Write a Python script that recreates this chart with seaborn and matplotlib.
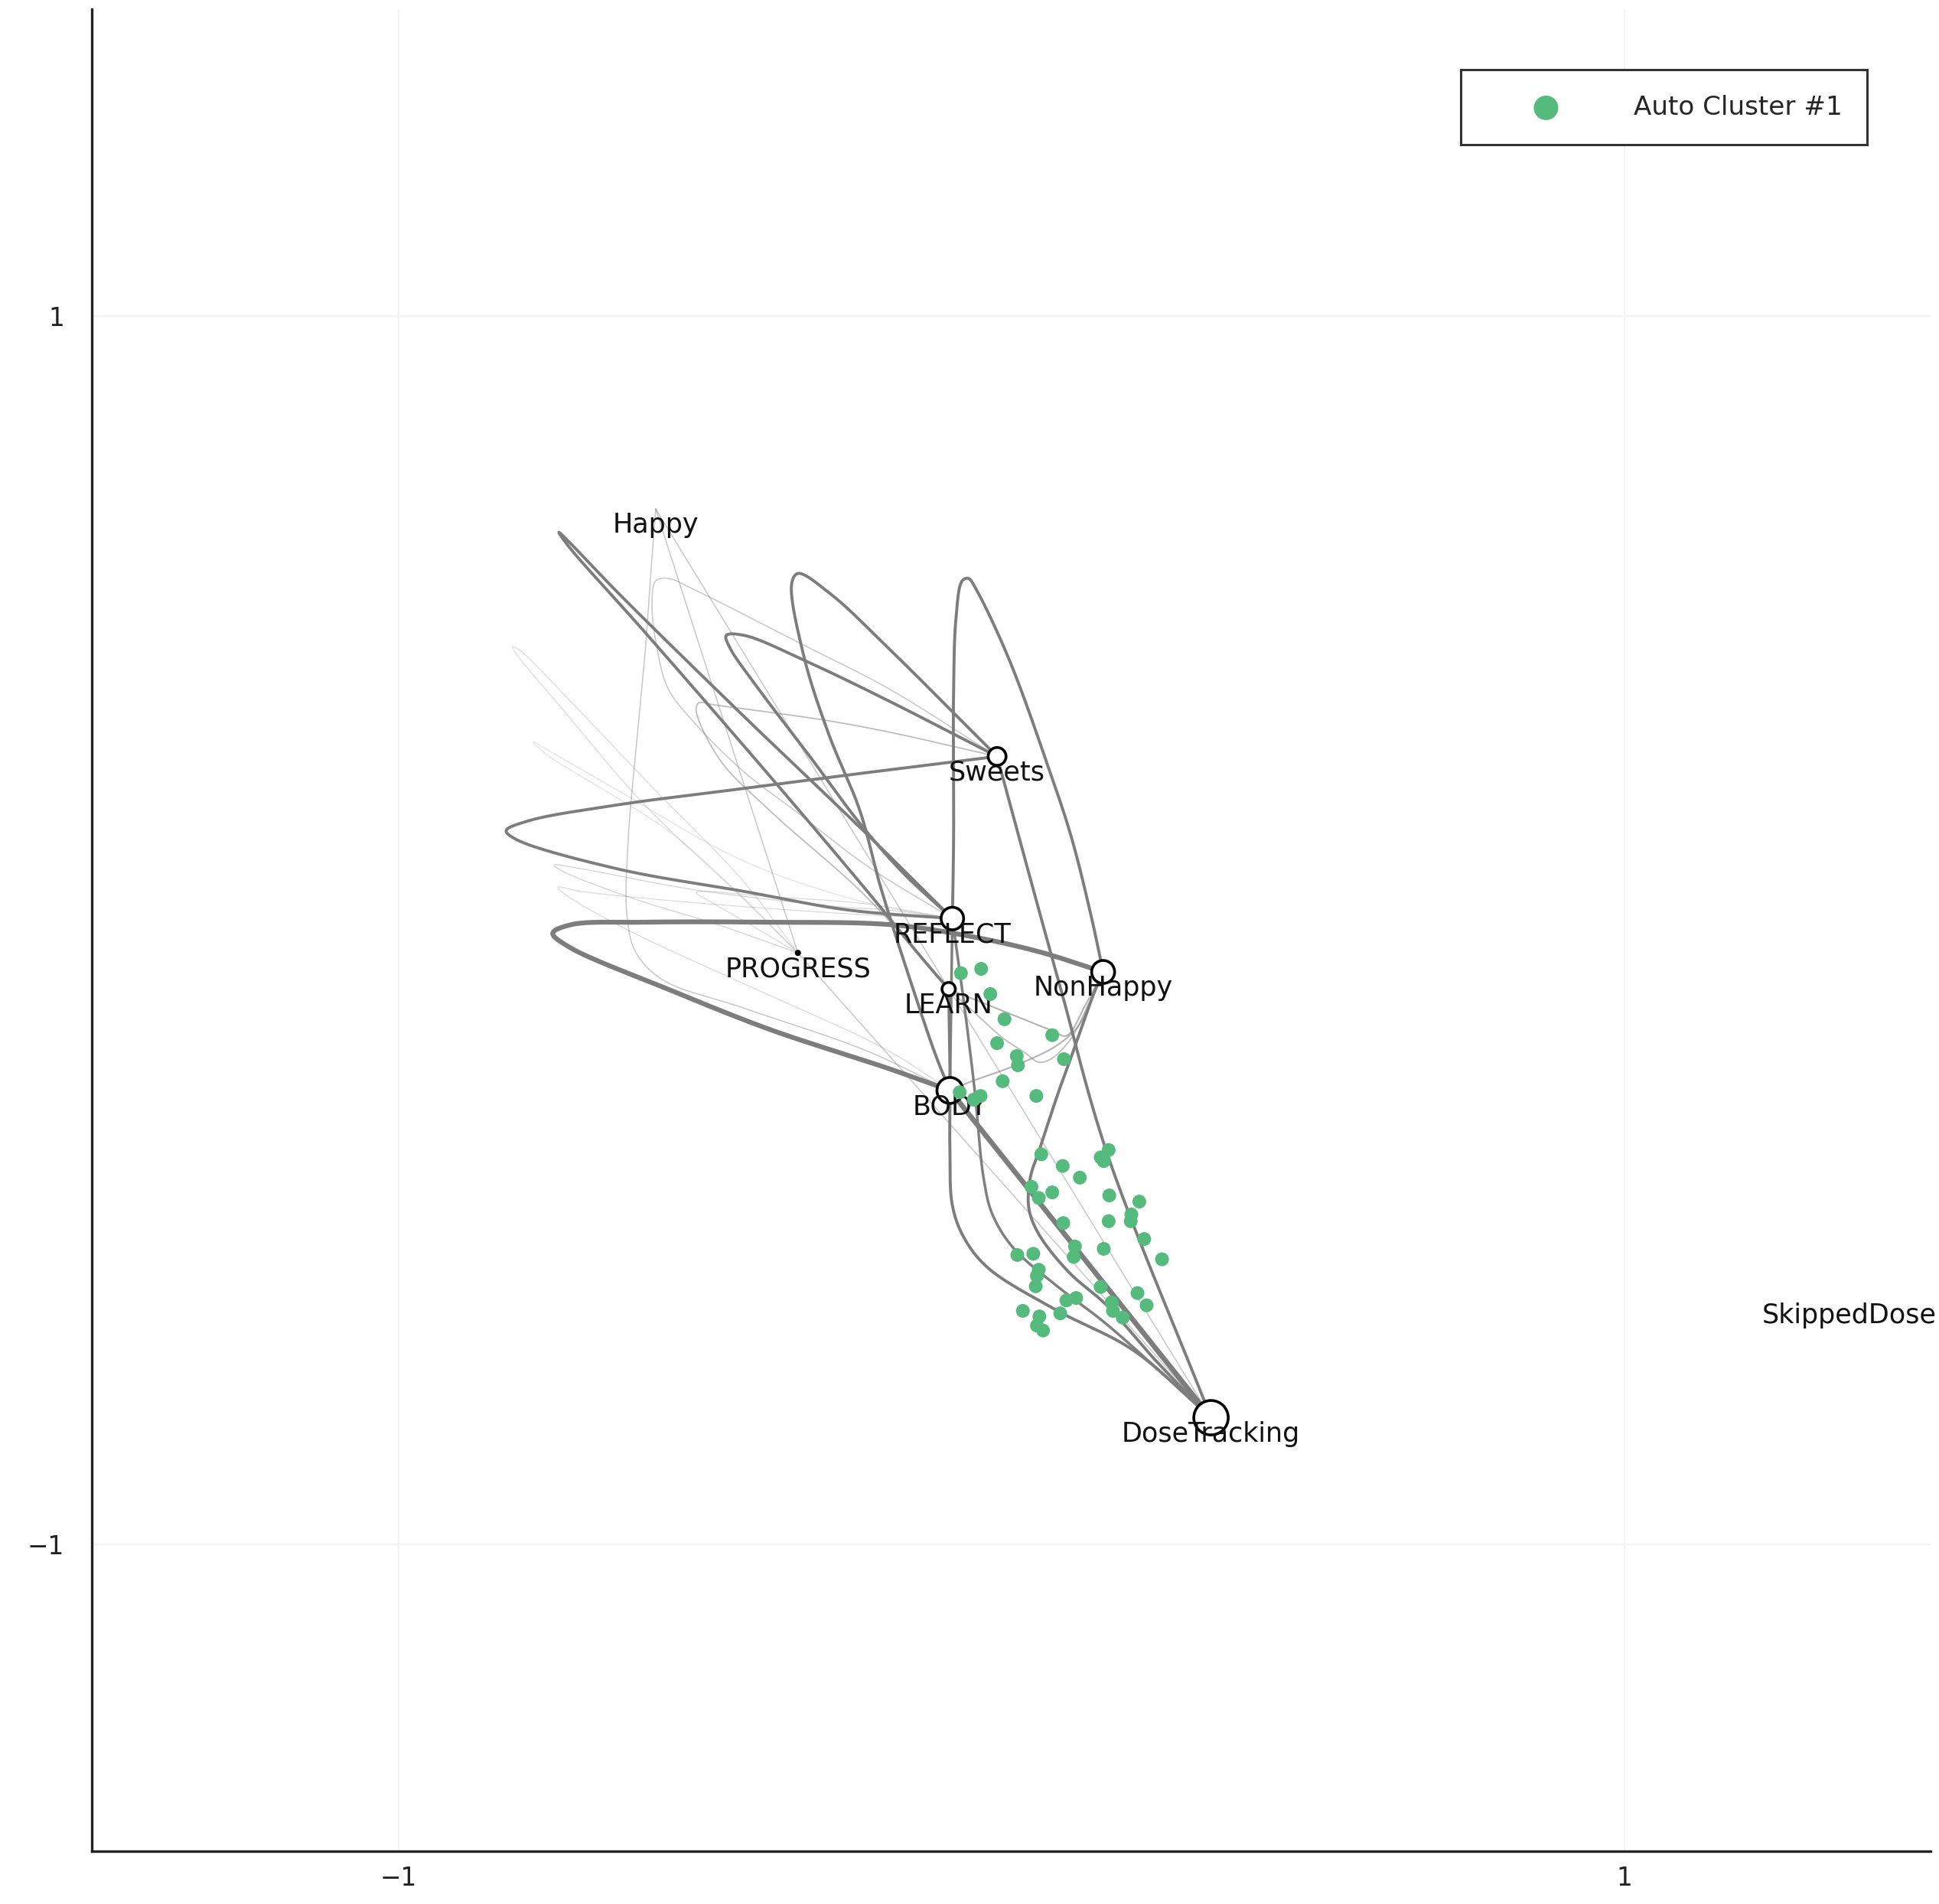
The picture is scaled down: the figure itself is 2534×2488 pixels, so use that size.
import numpy as np
import pandas as pd
import matplotlib
matplotlib.use("Agg")
import matplotlib.pyplot as plt
import seaborn as sns

# ---------------- data ----------------
node_names = ["Happy", "Sweets", "REFLECT", "PROGRESS", "NonHappy",
              "LEARN", "BODY", "DoseTracking", "SkippedDose"]
node_x = [-0.580, -0.023, -0.096, -0.348, 0.150, -0.102, -0.100, 0.326, 1.367]
node_y = [0.686, 0.283, 0.019, -0.037, -0.068, -0.096, -0.261, -0.794, -0.601]
node_weight = [0.0, 8.4, 10.6, 1.6, 10.8, 6.3, 12.2, 16.2, 0.0]

# transitions between states: source, target, weight and via points of each curve
edge_src = ["NonHappy", "Sweets", "Sweets", "REFLECT", "Sweets", "REFLECT",
            "Sweets", "NonHappy", "BODY", "LEARN", "REFLECT", "REFLECT",
            "LEARN", "BODY", "LEARN", "PROGRESS", "Happy", "Happy", "Happy",
            "Sweets", "Sweets", "PROGRESS", "REFLECT", "REFLECT", "REFLECT",
            "REFLECT"]
edge_dst = ["BODY", "REFLECT", "BODY", "NonHappy", "REFLECT", "LEARN",
            "DoseTracking", "DoseTracking", "DoseTracking", "DoseTracking",
            "DoseTracking", "BODY", "NonHappy", "NonHappy", "NonHappy",
            "DoseTracking", "DoseTracking", "PROGRESS", "BODY", "REFLECT",
            "LEARN", "PROGRESS", "PROGRESS", "BODY", "PROGRESS", "PROGRESS"]
edge_weight = [4.2, 2.5, 2.5, 2.5, 2.5, 2.5, 2.5, 2.5, 4.5, 2.5, 2.2, 2.2,
               1.2, 1.2, 1.0, 0.8, 0.8, 0.8, 0.8, 0.8, 1.0, 0.5, 0.6, 0.5,
               0.5, 0.4]
edge_via = [
    [(0.045, -0.035), (-0.072, -0.009), (-0.197, 0.009), (-0.399, 0.013),
     (-0.600, 0.013), (-0.718, 0.009), (-0.748, -0.005), (-0.722, -0.027),
     (-0.560, -0.096), (-0.393, -0.162), (-0.201, -0.225)],
    [(-0.201, 0.261), (-0.435, 0.231), (-0.643, 0.204), (-0.788, 0.178),
     (-0.824, 0.162), (-0.808, 0.148), (-0.643, 0.100), (-0.435, 0.063),
     (-0.267, 0.033)],
    [(-0.201, 0.460), (-0.294, 0.547), (-0.348, 0.581), (-0.358, 0.565),
     (-0.338, 0.445), (-0.298, 0.320), (-0.247, 0.195), (-0.213, 0.070),
     (-0.160, -0.096), (-0.122, -0.207)],
    [(-0.094, 0.146), (-0.094, 0.388), (-0.090, 0.509), (-0.080, 0.569),
     (-0.070, 0.573), (-0.056, 0.553), (-0.003, 0.440), (0.058, 0.273),
     (0.098, 0.152), (0.130, 0.025)],
    [(-0.201, 0.374), (-0.330, 0.436), (-0.435, 0.480), (-0.465, 0.480),
     (-0.459, 0.460), (-0.413, 0.394), (-0.330, 0.285), (-0.247, 0.174),
     (-0.177, 0.094)],
    [(-0.237, 0.158), (-0.439, 0.351), (-0.641, 0.549), (-0.718, 0.629),
     (-0.738, 0.648), (-0.722, 0.625), (-0.600, 0.488), (-0.399, 0.257),
     (-0.237, 0.066), (-0.146, -0.045)],
    [(0.029, 0.092), (0.082, -0.100), (0.156, -0.362)],
    [(0.136, -0.100), (0.106, -0.184), (0.076, -0.267), (0.049, -0.349),
     (0.031, -0.404), (0.029, -0.454), (0.045, -0.495), (0.094, -0.557),
     (0.156, -0.611), (0.235, -0.700)],
    [],
    [(-0.100, -0.217), (-0.100, -0.358), (-0.096, -0.448), (-0.078, -0.499),
     (-0.039, -0.549), (0.074, -0.619), (0.199, -0.684)],
    [(-0.080, -0.096), (-0.060, -0.257), (-0.045, -0.404), (-0.031, -0.462),
     (0.003, -0.517), (0.074, -0.579), (0.156, -0.642)],
    [],
    [(-0.047, -0.118), (0.068, -0.164), (0.090, -0.172), (0.122, -0.120)],
    [(-0.072, -0.249), (0.015, -0.217), (0.074, -0.188), (0.108, -0.158),
     (0.132, -0.112)],
    [(-0.056, -0.138), (-0.013, -0.176), (0.023, -0.200), (0.045, -0.215),
     (0.066, -0.209), (0.098, -0.176), (0.126, -0.120)],
    [],
    [],
    [],
    [(-0.586, 0.609), (-0.596, 0.468), (-0.611, 0.307), (-0.625, 0.146),
     (-0.627, 0.025), (-0.613, -0.035), (-0.570, -0.080), (-0.439, -0.126),
     (-0.237, -0.196)],
    [(-0.201, 0.394), (-0.330, 0.460), (-0.518, 0.555), (-0.560, 0.573),
     (-0.580, 0.569), (-0.586, 0.529), (-0.578, 0.460), (-0.560, 0.394),
     (-0.518, 0.339), (-0.435, 0.257), (-0.352, 0.194), (-0.237, 0.106)],
    [(-0.201, 0.323), (-0.310, 0.343), (-0.479, 0.366), (-0.510, 0.370),
     (-0.514, 0.358), (-0.475, 0.277), (-0.393, 0.194), (-0.237, 0.055)],
    [(-0.439, 0.082), (-0.580, 0.227), (-0.722, 0.376), (-0.802, 0.456),
     (-0.814, 0.462), (-0.806, 0.448), (-0.732, 0.360), (-0.600, 0.206),
     (-0.439, 0.053)],
    [(-0.201, 0.033), (-0.267, 0.037), (-0.518, 0.066), (-0.701, 0.100),
     (-0.746, 0.106), (-0.732, 0.096), (-0.621, 0.053), (-0.479, 0.009)],
    [(-0.237, 0.025), (-0.520, 0.045), (-0.701, 0.063), (-0.740, 0.070),
     (-0.726, 0.057), (-0.623, -0.001), (-0.439, -0.086), (-0.201, -0.196)],
    [(-0.237, 0.043), (-0.399, 0.055), (-0.500, 0.063), (-0.514, 0.061),
     (-0.495, 0.049), (-0.419, 0.005)],
    [(-0.237, 0.045), (-0.435, 0.112), (-0.641, 0.227), (-0.762, 0.297),
     (-0.780, 0.307), (-0.762, 0.289), (-0.560, 0.162), (-0.439, 0.055)],
]

# sampled states of the automatically detected cluster
cluster_x = [-0.082, -0.049, -0.034, -0.011, 0.067, -0.023, 0.009, 0.011,
             0.086, -0.014, -0.084, -0.061, -0.050, 0.041,
             0.049, 0.084, 0.112, 0.146, 0.159, 0.151, 0.033, 0.045, 0.067,
             0.160, 0.209, 0.196, 0.195, 0.159, 0.085, 0.217, 0.104, 0.102,
             0.151, 0.246, 0.010, 0.036, 0.045, 0.042, 0.040, 0.146, 0.090,
             0.106, 0.206, 0.221, 0.164, 0.166, 0.182, 0.019, 0.046, 0.042,
             0.052, 0.080]
cluster_y = [-0.070, -0.063, -0.104, -0.145, -0.171, -0.184, -0.205, -0.220,
             -0.210, -0.246, -0.264, -0.276, -0.270, -0.270,
             -0.365, -0.384, -0.403, -0.370, -0.358, -0.376, -0.418, -0.436,
             -0.427, -0.432, -0.442, -0.463, -0.474, -0.474, -0.477, -0.503,
             -0.515, -0.532, -0.519, -0.536, -0.529, -0.527, -0.553, -0.563,
             -0.580, -0.581, -0.603, -0.599, -0.591, -0.611, -0.606, -0.620,
             -0.631, -0.620, -0.629, -0.644, -0.652, -0.624]
cluster_label = "Auto Cluster #1"
tick_values = [-1, 1]


# ---------------- helpers ----------------
def catmull_rom(points, n=30):
    """Centripetal Catmull-Rom spline through the given points."""
    pts = np.asarray(points, dtype=float)
    if len(pts) == 2:
        return pts
    p = np.vstack([2 * pts[0] - pts[1], pts, 2 * pts[-1] - pts[-2]])
    out = []
    for i in range(1, len(p) - 2):
        p0, p1, p2, p3 = p[i - 1], p[i], p[i + 1], p[i + 2]

        def step(a, b):
            return max(np.linalg.norm(b - a) ** 0.5, 1e-6)

        t0 = 0.0
        t1 = t0 + step(p0, p1)
        t2 = t1 + step(p1, p2)
        t3 = t2 + step(p2, p3)
        t = np.linspace(t1, t2, n)[:, None]
        a1 = (t1 - t) / (t1 - t0) * p0 + (t - t0) / (t1 - t0) * p1
        a2 = (t2 - t) / (t2 - t1) * p1 + (t - t1) / (t2 - t1) * p2
        a3 = (t3 - t) / (t3 - t2) * p2 + (t - t2) / (t3 - t2) * p3
        b1 = (t2 - t) / (t2 - t0) * a1 + (t - t0) / (t2 - t0) * a2
        b2 = (t3 - t) / (t3 - t1) * a2 + (t - t1) / (t3 - t1) * a3
        c = (t2 - t) / (t2 - t1) * b1 + (t - t1) / (t2 - t1) * b2
        out.append(c if i == 1 else c[1:])
    return np.vstack(out)


# ---------------- figure ----------------
sns.set_theme(style="white")
plt.rcParams["font.family"] = ["DejaVu Sans"]

W, H, DPI = 2534, 2488, 200
fig = plt.figure(figsize=(W / DPI, H / DPI), dpi=DPI)
ax = fig.add_axes([120 / W, 69 / H, 2403 / W, 2407 / H])

pos = {n: (x, y) for n, x, y in zip(node_names, node_x, node_y)}
edge_color = "#7d7d7d"

rows = []
for k, (s, d, via) in enumerate(zip(edge_src, edge_dst, edge_via)):
    path = catmull_rom([pos[s]] + list(via) + [pos[d]])
    for px, py in path:
        rows.append((k, px, py))
edges_df = pd.DataFrame(rows, columns=["edge", "x", "y"])

for k, w in enumerate(edge_weight):
    sub = edges_df[edges_df["edge"] == k]
    sns.lineplot(data=sub, x="x", y="y", sort=False, estimator=None,
                 color=edge_color, linewidth=0.15 + 0.5 * w,
                 alpha=min(1.0, 0.1 + 0.4 * w), ax=ax, zorder=1,
                 legend=False)

# state nodes
sizes = np.array(node_weight) ** 2
ax.scatter(node_x, node_y, s=sizes, facecolor="white", edgecolor="black",
           linewidth=1.3, zorder=3)

for n, x, y in zip(node_names, node_x, node_y):
    ax.annotate(n, (x, y), xytext=(0, -7.6), textcoords="offset points",
                ha="center", va="center", fontsize=12.6, color="#111111",
                zorder=4)

# cluster points
sns.scatterplot(x=cluster_x, y=cluster_y, color="#55bb7c", s=42,
                edgecolor="none", label=cluster_label, ax=ax, zorder=5)

# axes styling
ax.set_xlim(-1.5, 1.5)
ax.set_ylim(-1.5, 1.5)
ax.set_xticks(tick_values)
ax.set_yticks(tick_values)
ax.set_xticklabels([f"{v:d}".replace("-", "\u2212") for v in tick_values])
ax.set_yticklabels([f"{v:d}".replace("-", "\u2212") for v in tick_values])
ax.set_xlabel("")
ax.set_ylabel("")
for side in ["top", "right"]:
    ax.spines[side].set_visible(False)
for side in ["left", "bottom"]:
    ax.spines[side].set_color("#222222")
    ax.spines[side].set_linewidth(1.2)
ax.tick_params(axis="both", direction="in", length=10, width=1.2,
               color="#444444", labelsize=11.8, labelcolor="#222222")
ax.tick_params(axis="y", pad=13)
ax.tick_params(axis="x", pad=7)
ax.grid(True, color="#f3f3f3", linewidth=0.8)
ax.set_axisbelow(True)

leg = ax.legend(loc="upper right", bbox_to_anchor=(0.9655, 0.967),
                borderaxespad=0, fontsize=12.3, frameon=True,
                fancybox=False, framealpha=1, edgecolor="#333333",
                borderpad=0.95, handlelength=4.6, handletextpad=1.05,
                markerscale=1.78)
leg.get_frame().set_linewidth(1.1)
leg.set_zorder(10)

fig.savefig("out.png", dpi=DPI)
